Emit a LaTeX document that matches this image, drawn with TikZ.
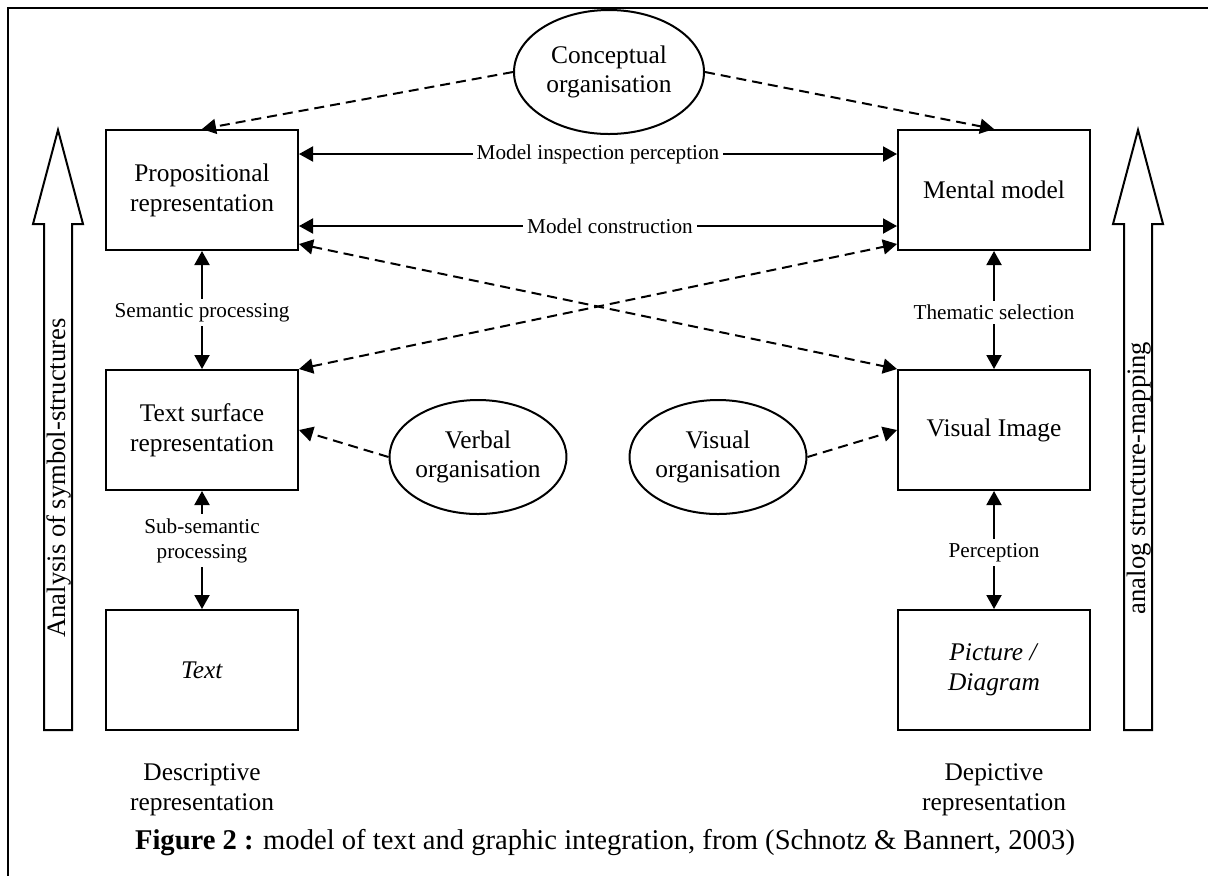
\documentclass[tikz,border=0pt]{standalone}
\usepackage{fontspec}
\setmainfont{Liberation Serif}
\usetikzlibrary{arrows.meta, shapes.geometric}

\tikzset{
  box/.style={draw, line width=1pt, minimum width=96pt, minimum height=60pt,
    inner sep=0pt, align=center, font=\fontsize{12.7}{15}\selectfont},
  orga/.style={draw, ellipse, line width=1pt, inner sep=0pt, align=center,
    font=\fontsize{12.7}{14.5}\selectfont},
  lbl/.style={fill=white, inner sep=2pt, align=center,
    font=\fontsize{10.6}{12.5}\selectfont},
  tip/.tip={Triangle[length=7pt, width=7.5pt]},
  both/.style={line width=1pt, tip-tip},
  dashlink/.style={line width=1pt, dash pattern=on 5pt off 3pt},
  hollow/.style={line width=1pt, line join=miter},
}

\begin{document}
\begin{tikzpicture}[x=0.5pt, y=-0.5pt]
  \clip (0,0) rectangle (1208,875);
  \draw[line width=1pt] (8,8) rectangle (1240,900);

  % boxes
  \node[box] (prop) at (202,190) {Propositional\\representation};
  \node[box] (mm)   at (994,190) {Mental model};
  \node[box] (surf) at (202,430) {Text surface\\representation};
  \node[box] (vis)  at (994,430) {Visual Image};
  \node[box] (txt)  at (202,670) {\textit{Text}};
  \node[box] (pic)  at (994,670) {\textit{Picture /}\\\textit{Diagram}};

  % organisations
  \node[orga, minimum width=95pt, minimum height=62pt] (conc) at (609,72) {Conceptual\\organisation};
  \node[orga, minimum width=85pt, minimum height=57pt] (verb) at (478,457) {Verbal\\organisation};
  \node[orga, minimum width=85pt, minimum height=57pt] (visu) at (718,457) {Visual\\organisation};

  % solid links
  \draw[both] ([yshift=18pt]prop.east) -- ([yshift=18pt]mm.west) node[lbl, midway] {Model inspection perception};
  \draw[both] ([yshift=-18pt]prop.east) -- ([yshift=-18pt]mm.west) node[lbl, pos=0.52] {Model construction};
  \draw[both] (prop.south) -- (surf.north) node[lbl, pos=0.52] {Semantic processing};
  \draw[both] (surf.south) -- (txt.north) node[lbl, pos=0.42] {Sub-semantic\\processing};
  \draw[both] (mm.south) -- (vis.north) node[lbl, pos=0.52] {Thematic selection};
  \draw[both] (vis.south) -- (pic.north) node[lbl, pos=0.52] {Perception};

  % dashed links
  \draw[dashlink, -tip] (conc.west) -- (prop.north);
  \draw[dashlink, -tip] (conc.east) -- (mm.north);
  \draw[dashlink, tip-tip] ([yshift=3.5pt]prop.south east) -- (vis.north west);
  \draw[dashlink, tip-tip] (surf.north east) -- ([yshift=3.5pt]mm.south west);
  \draw[dashlink, -tip] (verb.west) -- (surf.east);
  \draw[dashlink, -tip] (visu.east) -- (vis.west);

  % hollow arrows
  \draw[hollow] (44,730) -- (44,224) -- (33,224) -- (58,130) -- (83,224) -- (72,224) -- (72,730) -- cycle;
  \draw[hollow] (1124,730) -- (1124,224) -- (1113,224) -- (1138,130) -- (1163,224) -- (1152,224) -- (1152,730) -- cycle;
  \node[rotate=90, font=\fontsize{13.3}{16}\selectfont] (analysis) at (59,478) {Analysis of symbol-structures};
  \node[rotate=90, font=\fontsize{13.3}{16}\selectfont] (analog) at (1139,478) {analog structure-mapping};

  % bottom texts
  \node[align=center, font=\fontsize{12.7}{15}\selectfont] (descr) at (202,790) {Descriptive\\representation};
  \node[align=center, font=\fontsize{12.7}{15}\selectfont] (depic) at (994,790) {Depictive\\representation};
  \node[font=\fontsize{14.3}{17}\selectfont] (caption) at (605,843) {\textbf{Figure 2 :} model of text and graphic integration, from (Schnotz \& Bannert, 2003)};
\end{tikzpicture}
\end{document}
